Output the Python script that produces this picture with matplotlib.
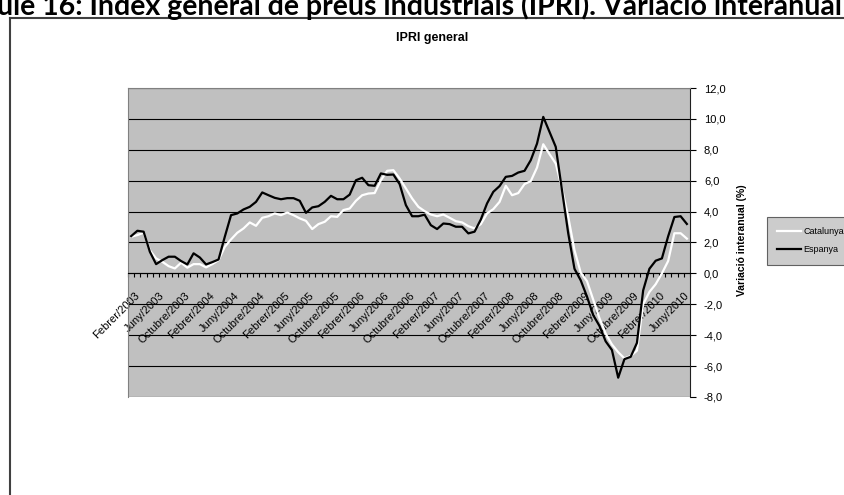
"""IPRI general: variació interanual Catalunya vs Espanya (febrer 2003 - juliol 2010)."""
import matplotlib
matplotlib.use("Agg")
import matplotlib.pyplot as plt  # noqa: E402
import numpy as np  # noqa: E402
from matplotlib.transforms import ScaledTranslation  # noqa: E402

plt.rcParams["font.family"] = ["Liberation Sans", "DejaVu Sans"]

# --------------------------------------------------------------------------- #
# dades (mensuals, febrer/2003 -> juliol/2010)
# --------------------------------------------------------------------------- #
catalunya = [
    2.37, 2.48, 2.63, 1.50, 0.97, 0.75, 0.47, 0.32, 0.69, 0.37,
    0.60, 0.60, 0.39, 0.60, 0.86, 1.72, 2.20, 2.63, 2.91, 3.30,
    3.08, 3.60, 3.70, 3.88, 3.77, 3.94, 3.77, 3.56, 3.40, 2.87,
    3.19, 3.34, 3.70, 3.66, 4.10, 4.20, 4.70, 5.06, 5.17, 5.20,
    6.03, 6.64, 6.68, 6.14, 5.50, 4.85, 4.31, 4.03, 3.81, 3.70,
    3.81, 3.60, 3.38, 3.30, 3.06, 2.91, 3.19, 3.88, 4.16, 4.63,
    5.67, 5.06, 5.20, 5.78, 5.97, 6.85, 8.36, 7.72, 7.11, 5.50,
    3.66, 1.50, 0.05, -0.50, -1.70, -2.90, -3.90, -4.60, -5.10, -5.50,
    -5.35, -5.00, -2.00, -1.20, -0.70, 0.00, 0.80, 2.60, 2.60, 2.25,
]
espanya = [
    2.41, 2.76, 2.70, 1.40, 0.60, 0.86, 1.08, 1.08, 0.80, 0.58,
    1.30, 1.03, 0.58, 0.73, 0.90, 2.37, 3.77, 3.88, 4.14, 4.31,
    4.63, 5.24, 5.06, 4.89, 4.80, 4.87, 4.87, 4.70, 3.92, 4.27,
    4.35, 4.63, 5.02, 4.80, 4.80, 5.10, 6.03, 6.19, 5.71, 5.67,
    6.47, 6.38, 6.40, 5.78, 4.42, 3.70, 3.70, 3.80, 3.12, 2.87,
    3.23, 3.19, 3.02, 3.02, 2.59, 2.70, 3.49, 4.53, 5.28, 5.65,
    6.25, 6.31, 6.53, 6.64, 7.33, 8.40, 10.13, 9.16, 8.19, 5.39,
    2.59, 0.30, -0.45, -1.50, -2.70, -3.40, -4.40, -4.96, -6.75, -5.55,
    -5.40, -4.50, -1.10, 0.30, 0.82, 0.97, 2.40, 3.65, 3.70, 3.20,
]
tick_labels = [
    "Febrer/2003", "Juny/2003", "Octubre/2003",
    "Febrer/2004", "Juny/2004", "Octubre/2004",
    "Febrer/2005", "Juny/2005", "Octubre/2005",
    "Febrer/2006", "Juny/2006", "Octubre/2006",
    "Febrer/2007", "Juny/2007", "Octubre/2007",
    "Febrer/2008", "Juny/2008", "Octubre/2008",
    "Febrer/2009", "Juny/2009", "Octubre/2009",
    "Febrer/2010", "Juny/2010",
]
label_step = 4
y_ticks = [-8, -6, -4, -2, 0, 2, 4, 6, 8, 10, 12]

W, H = 845, 495
fig = plt.figure(figsize=(W / 100, H / 100), dpi=100)
fig.patch.set_facecolor("white")

# marc del gràfic (surt per la dreta i per baix)
fig.add_artist(plt.Line2D([10 / W, 10 / W], [0, 1 - 18 / H], color="#404040", lw=1.5))
fig.add_artist(plt.Line2D([10 / W, 1], [1 - 18 / H, 1 - 18 / H], color="#404040", lw=1.5))

# títol del document, retallat per dalt com a l'original
fig.text(-3 / W, 1 - 15 / H,
         "ule 16: Índex general de preus industrials (IPRI). Variació interanual",
         family=["Lato", "DejaVu Sans"], weight="bold", fontsize=20.5,
         ha="left", va="baseline")
fig.text(432 / W, 1 - 38 / H, "IPRI general", fontsize=9, weight="bold",
         ha="center", va="center")

ax = fig.add_axes([128 / W, 1 - 397 / H, (690 - 128) / W, (397 - 88) / H])
ax.set_facecolor("#C0C0C0")

x = np.arange(len(espanya))
ax.plot(x, catalunya, color="white", lw=1.6, label="Catalunya", zorder=3)
ax.plot(x, espanya, color="black", lw=1.6, label="Espanya", zorder=4)

ax.set_xlim(-0.5, len(x) - 0.5)
ax.set_ylim(-8, 12)
ax.set_yticks(y_ticks)
ax.yaxis.grid(True, color="black", lw=0.8)
ax.set_axisbelow(True)

# eix Y a la dreta
ax.yaxis.tick_right()
ax.set_yticklabels([f"{v:.1f}".replace(".", ",") for v in y_ticks], fontsize=8)
ax.tick_params(axis="y", direction="out", length=4, width=0.8, pad=6, colors="black")

# eix X sobre el zero
ax.spines["bottom"].set_position(("data", 0))
ax.spines["bottom"].set_color("black")
ax.spines["right"].set_color("#202020")
for s in ("left", "top"):
    ax.spines[s].set_color("#808080")
ax.set_xticks(np.arange(-0.5, len(x), 1), minor=True)
ax.tick_params(axis="x", which="minor", direction="out", length=3, width=0.8)
ax.set_xticks(x[::label_step])
ax.set_xticklabels(tick_labels, rotation=45, ha="right", va="center",
                   rotation_mode="anchor", fontsize=8)
ax.tick_params(axis="x", which="major", length=0, pad=15)
off = ScaledTranslation(5 / 72, 0, fig.dpi_scale_trans)
for lab in ax.get_xticklabels():
    lab.set_transform(lab.get_transform() + off)

fig.text(742 / W, 1 - 240 / H, "Variació interanual (%)", rotation=90,
         fontsize=7.5, weight="bold", ha="center", va="center")

leg = ax.legend(loc="upper left", bbox_to_anchor=(762 / W, 1 - 212 / H),
                bbox_transform=fig.transFigure, fontsize=6.5, frameon=True,
                fancybox=False, borderpad=1.2, labelspacing=1.0,
                handlelength=2.6, handletextpad=0.3)
leg.get_frame().set_facecolor("#C0C0C0")
leg.get_frame().set_edgecolor("#404040")
leg.get_frame().set_linewidth(0.8)
for h in leg.get_lines():
    h.set_linewidth(1.6)

fig.savefig("out.png", dpi=100)
